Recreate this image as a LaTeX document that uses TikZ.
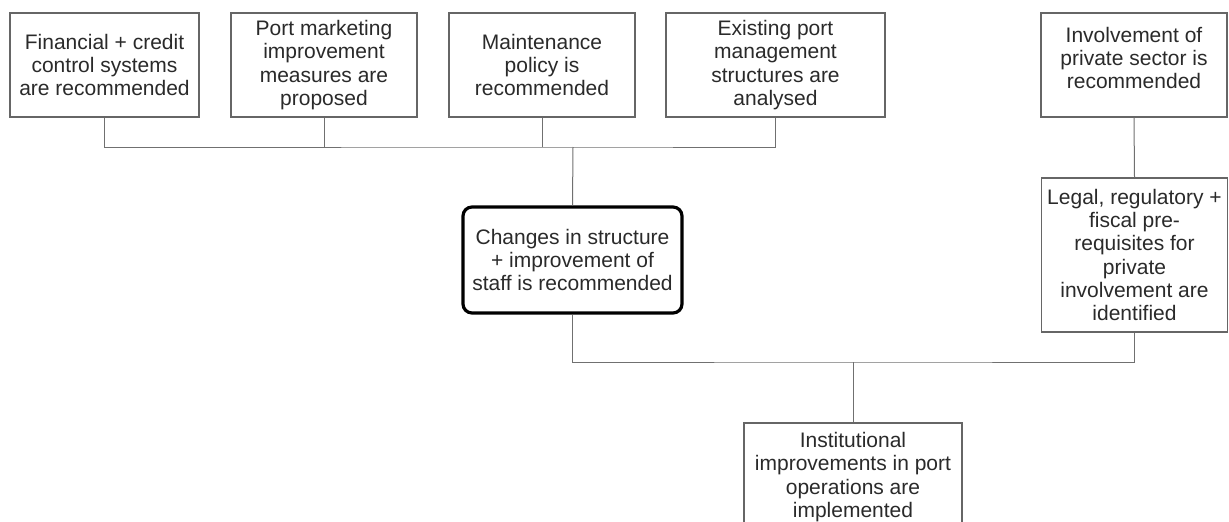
\documentclass[tikz,border=0pt]{standalone}
\usepackage{fontspec}
\setmainfont{Liberation Sans}
\definecolor{boxline}{HTML}{666666}
\definecolor{connline}{HTML}{707070}
\definecolor{txt}{HTML}{2A2A2A}
\begin{document}
\begin{tikzpicture}[x=1pt,y=-1pt,
  every node/.style={font=\fontsize{21}{23.3}\selectfont, text=txt, align=center, inner sep=0pt},
  plainbox/.style={draw=boxline, line width=1.3pt, rectangle, fill=white},
  keybox/.style={draw=black, line width=3.2pt, rounded corners=9pt, rectangle, fill=white},
  conn/.style={draw=connline, line width=1pt}]
\useasboundingbox (0,0) rectangle (1229,522);

% top row of activities
\node[plainbox, minimum width=189pt, minimum height=104pt] (fin) at (104.5,65)
  {Financial + credit\\control systems\\are recommended};
\node[plainbox, minimum width=186pt, minimum height=104pt] (mkt) at (324,65)
  {Port marketing\\improvement\\measures are\\proposed};
\node[plainbox, minimum width=186pt, minimum height=104pt] (mnt) at (542,65)
  {Maintenance\\policy is\\recommended};
\node[plainbox, minimum width=219pt, minimum height=104pt] (mgm) at (775.5,65)
  {Existing port\\management\\structures are\\analysed};
\node[plainbox, minimum width=186pt, minimum height=104pt] (prv) at (1134,65) {};
\node at (1134,58) {Involvement of\\private sector is\\recommended};

% middle level
\node[keybox, minimum width=219pt, minimum height=106pt] (chg) at (572.5,260)
  {Changes in structure\\+ improvement of\\staff is recommended};
\node[plainbox, minimum width=186pt, minimum height=154pt] (leg) at (1134.5,255)
  {Legal, regulatory +\\fiscal pre-\\requisites for\\private\\involvement are\\identified};

% outcome
\node[plainbox, minimum width=218pt, minimum height=108pt] (ins) at (853,477)
  {Institutional\\improvements in port\\operations are\\implemented};

% junction points
\coordinate (jtop) at (573,147);
\coordinate (jbot) at (853,362);

% connectors
\draw[conn] (fin.south) |- (jtop) -| (mgm.south);
\draw[conn] (mkt.south) -- (mkt.south |- jtop);
\draw[conn] (mnt.south) -- (mnt.south |- jtop);
\draw[conn] (jtop) -- (chg.north);
\draw[conn] (prv.south) -- (leg.north);
\draw[conn] (chg.south) |- (jbot) -| (leg.south);
\draw[conn] (jbot) -- (ins.north);
\end{tikzpicture}
\end{document}
